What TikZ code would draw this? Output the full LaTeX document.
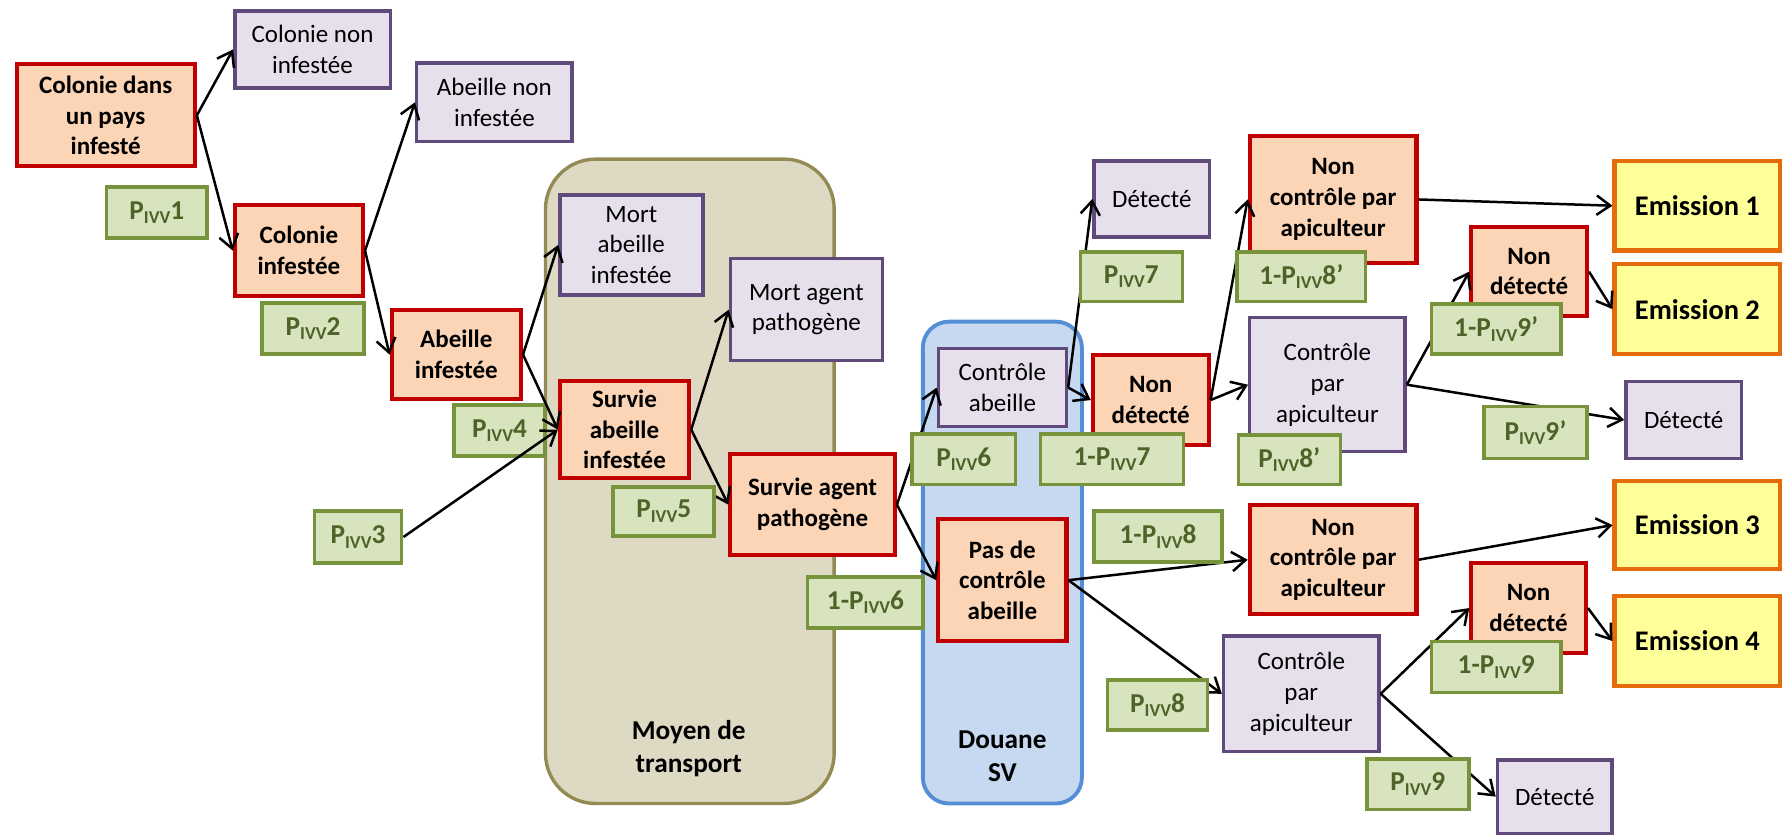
\documentclass[tikz,border=0pt]{standalone}
\usepackage{fontspec}
\setmainfont{Carlito}
\usetikzlibrary{arrows.meta}
\definecolor{redfill}{HTML}{FBD5B5}
\definecolor{redline}{HTML}{C00000}
\definecolor{purfill}{HTML}{E5E0EC}
\definecolor{purline}{HTML}{604A7B}
\definecolor{grnfill}{HTML}{D7E4BD}
\definecolor{grnline}{HTML}{77933C}
\definecolor{grntext}{HTML}{4F6228}
\definecolor{emifill}{HTML}{FFFF99}
\definecolor{emiline}{HTML}{E46C0A}
\definecolor{tanfill}{HTML}{DDD9C3}
\definecolor{tanline}{HTML}{948A54}
\definecolor{bluefill}{HTML}{C6D9F1}
\definecolor{blueline}{HTML}{558ED5}
\tikzset{
  base/.style={rectangle, inner sep=0pt, align=center, font=\fontsize{11}{13.5}\selectfont},
  redbox/.style={base, draw=redline, fill=redfill, line width=1.8pt, font=\fontsize{11}{13.5}\selectfont\bfseries},
  purbox/.style={base, draw=purline, fill=purfill, line width=1.5pt},
  grnbox/.style={base, draw=grnline, fill=grnfill, line width=1.6pt, text=grntext, font=\fontsize{12}{14}\selectfont\bfseries},
  emibox/.style={base, draw=emiline, fill=emifill, line width=1.8pt, font=\fontsize{12.5}{15}\selectfont\bfseries},
  tanarea/.style={draw=tanline, fill=tanfill, line width=1.5pt, rounded corners=22pt},
  bluearea/.style={draw=blueline, fill=bluefill, line width=1.7pt, rounded corners=11.5pt},
  arealabel/.style={align=center, inner sep=0pt, font=\fontsize{12}{14.5}\selectfont\bfseries},
  arr/.style={-{Straight Barb[length=6pt,width=8.5pt]}, line width=1.1pt, black},
}
\newcommand\bx[7]{\node[#1, minimum width={(#5-#3)*0.5pt-1.6pt}, minimum height={(#6-#4)*0.5pt-1.6pt}] (#2) at ({(#3+#5)/2},{(#4+#6)/2}) {#7};}
\newcommand\piv[1]{P\raisebox{-0.35ex}{\fontsize{8}{8}\selectfont IVV}#1}
\begin{document}
\begin{tikzpicture}[x=0.5pt,y=-0.5pt]
\useasboundingbox (0,0) rectangle (1568,736);
% containers
\draw[tanarea] (480,140) rectangle (734,707);
\draw[bluearea] (812,283) rectangle (952,707);
\node[arealabel] (moyen) at (606,659) {Moyen de\\transport};
\node[arealabel] (douane) at (882,665) {Douane\\SV};
% red boxes
\bx{redbox}{cdp}{13}{55}{173}{148}{Colonie dans\\un pays\\infesté}
\bx{redbox}{ci}{205}{179}{321}{262}{Colonie\\infestée}
\bx{redbox}{ai}{343}{271}{460}{353}{Abeille\\infestée}
\bx{redbox}{sa}{491}{334}{608}{422}{Survie\\abeille\\infestée}
\bx{redbox}{sg}{641}{398}{789}{490}{Survie agent\\pathogène}
\bx{redbox}{pdc}{824}{455}{940}{566}{Pas de\\contrôle\\abeille}
\bx{redbox}{nd1}{960}{311}{1065}{393}{Non\\détecté}
\bx{redbox}{nc1}{1098}{118}{1248}{233}{Non\\contrôle par\\apiculteur}
\bx{redbox}{nd2}{1293}{198}{1398}{280}{Non\\détecté}
\bx{redbox}{nc2}{1098}{443}{1248}{542}{Non\\contrôle par\\apiculteur}
\bx{redbox}{nd3}{1293}{494}{1397}{576}{Non\\détecté}
% purple boxes
\bx{purbox}{cni}{205}{8}{345}{79}{Colonie non\\infestée}
\bx{purbox}{ani}{365}{54}{505}{126}{Abeille non\\infestée}
\bx{purbox}{mai}{491}{170}{620}{261}{Mort\\abeille\\infestée}
\bx{purbox}{map}{641}{226}{778}{319}{Mort agent\\pathogène}
\bx{purbox}{cab}{824}{305}{940}{377}{Contrôle\\abeille}
\bx{purbox}{det1}{961}{140}{1066}{210}{Détecté}
\bx{purbox}{cpa1}{1098}{278}{1238}{399}{Contrôle\\par\\apiculteur}
\bx{purbox}{det2}{1429}{334}{1534}{405}{Détecté}
\bx{purbox}{cpa2}{1075}{558}{1215}{663}{Contrôle\\par\\apiculteur}
\bx{purbox}{det3}{1316}{667}{1420}{735}{Détecté}
% emission boxes
\bx{emibox}{e1}{1419}{140}{1568}{222}{Emission 1}
\bx{emibox}{e2}{1419}{231}{1568}{313}{Emission 2}
\bx{emibox}{e3}{1419}{422}{1568}{502}{Emission 3}
\bx{emibox}{e4}{1419}{523}{1568}{605}{Emission 4}
% labels below the arrows
\bx{grnbox}{p3}{275}{448}{355}{497}{\piv{3}}
\bx{grnbox}{p4}{398}{355}{481}{403}{\piv{4}}
% arrows
\draw[arr] (cdp.east) -- (cni.west);
\draw[arr] (cdp.east) -- (ci.west);
\draw[arr] (ci.east) -- (ani.west);
\draw[arr] (ci.east) -- (ai.west);
\draw[arr] (ai.east) -- (mai.west);
\draw[arr] (ai.east) -- (sa.west);
\draw[arr] (p3.east) -- (sa.west);
\draw[arr] (sa.east) -- (map.west);
\draw[arr] (sa.east) -- (sg.west);
\draw[arr] (sg.east) -- (cab.west);
\draw[arr] (sg.east) -- (pdc.west);
\draw[arr] (cab.east) -- (det1.west);
\draw[arr] (cab.east) -- (nd1.west);
\draw[arr] (nd1.east) -- (nc1.west);
\draw[arr] (nd1.east) -- (cpa1.west);
\draw[arr] (nc1.east) -- (e1.west);
\draw[arr] (cpa1.east) -- (nd2.west);
\draw[arr] (cpa1.east) -- (det2.west);
\draw[arr] (nd2.east) -- (e2.west);
\draw[arr] (pdc.east) -- (nc2.west);
\draw[arr] (pdc.east) -- (cpa2.west);
\draw[arr] (nc2.east) -- (e3.west);
\draw[arr] (cpa2.east) -- (nd3.west);
\draw[arr] (cpa2.east) -- (det3.west);
\draw[arr] (nd3.east) -- (e4.west);
% labels above the arrows
\bx{grnbox}{p1}{92}{163}{184}{211}{\piv{1}}
\bx{grnbox}{p2}{229}{265}{322}{313}{\piv{2}}
\bx{grnbox}{p5}{538}{427}{630}{473}{\piv{5}}
\bx{grnbox}{p6}{801}{380}{895}{428}{\piv{6}}
\bx{grnbox}{q6}{709}{506}{814}{554}{1-\piv{6}}
\bx{grnbox}{p7}{949}{220}{1042}{267}{\piv{7}}
\bx{grnbox}{q7}{914}{380}{1043}{428}{1-\piv{7}}
\bx{grnbox}{q8p}{1087}{220}{1203}{267}{1-\piv{8’}}
\bx{grnbox}{p8p}{1088}{381}{1181}{428}{\piv{8’}}
\bx{grnbox}{q9p}{1258}{266}{1375}{313}{1-\piv{9’}}
\bx{grnbox}{p9p}{1304}{356}{1398}{405}{\piv{9’}}
\bx{grnbox}{q8}{961}{448}{1077}{496}{1-\piv{8}}
\bx{grnbox}{p8}{973}{597}{1064}{644}{\piv{8}}
\bx{grnbox}{q9}{1258}{563}{1375}{611}{1-\piv{9}}
\bx{grnbox}{p9}{1201}{666}{1294}{714}{\piv{9}}
\end{tikzpicture}
\end{document}
